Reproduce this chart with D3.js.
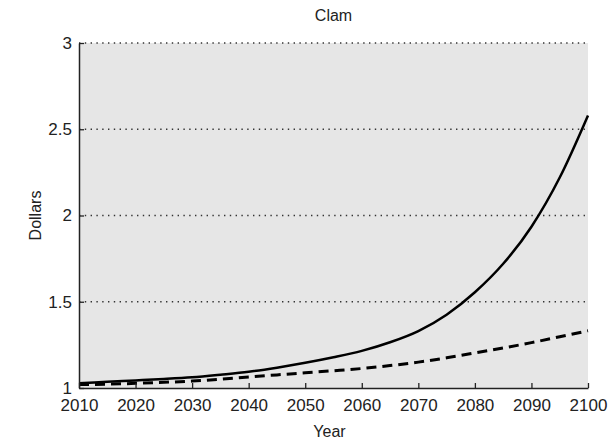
<!DOCTYPE html>
<html lang="en">
<head>
    <meta charset="UTF-8">
    <title>Clam</title>
    <style>
        body {
            margin: 0;
            padding: 0;
            background-color: #ffffff;
        }
        svg text {
            font-family: "Liberation Sans", Arial, sans-serif;
            fill: #222;
        }
        .tick text {
            font-size: 17px;
        }
        .chart-title, .axis-label {
            font-size: 16px;
            text-anchor: middle;
        }
    </style>
</head>
<body>
    <svg width="610" height="445"></svg>

    <script src="https://d3js.org/d3.v7.min.js"></script>
    <script>
        // values, every 5 years
        const years = [2010, 2015, 2020, 2025, 2030, 2035, 2040, 2045, 2050, 2055,
                       2060, 2065, 2070, 2075, 2080, 2085, 2090, 2095, 2100];
        const solidSeries = [1.028, 1.036, 1.044, 1.052, 1.062, 1.077, 1.094, 1.118, 1.146, 1.178,
                             1.215, 1.265, 1.33, 1.425, 1.555, 1.72, 1.935, 2.22, 2.58];
        const dashedSeries = [1.02, 1.022, 1.027, 1.033, 1.04, 1.051, 1.064, 1.076, 1.088, 1.10,
                              1.113, 1.13, 1.15, 1.175, 1.203, 1.232, 1.263, 1.297, 1.332];
        const xTicks = [2010, 2020, 2030, 2040, 2050, 2060, 2070, 2080, 2090, 2100];
        const yTicks = [1, 1.5, 2, 2.5, 3];
        const gridValues = [1.5, 2, 2.5, 3];

        const svg = d3.select("svg");
        const margin = {top: 43, right: 22, bottom: 57, left: 79};
        const width = +svg.attr("width");
        const height = +svg.attr("height");

        const x = d3.scaleLinear()
            .domain([2010, 2100])
            .range([margin.left, width - margin.right]);

        const y = d3.scaleLinear()
            .domain([1, 3])
            .range([height - margin.bottom, margin.top]);

        // grey plot background
        svg.append("rect")
            .attr("x", x(2010))
            .attr("y", y(3))
            .attr("width", x(2100) - x(2010))
            .attr("height", y(1) - y(3))
            .attr("fill", "#e6e6e6");

        // dotted grid lines
        svg.append("g")
            .selectAll("line")
            .data(gridValues)
            .join("line")
            .attr("x1", x(2010))
            .attr("x2", x(2100))
            .attr("y1", d => y(d))
            .attr("y2", d => y(d))
            .attr("stroke", "#333")
            .attr("stroke-width", 1.3)
            .attr("stroke-dasharray", "1.4,4.4");

        const line = d3.line()
            .x((d, i) => x(years[i]))
            .y(d => y(d))
            .curve(d3.curveMonotoneX);

        svg.append("path")
            .datum(dashedSeries)
            .attr("d", line)
            .attr("fill", "none")
            .attr("stroke", "#000")
            .attr("stroke-width", 3)
            .attr("stroke-dasharray", "10,6");

        svg.append("path")
            .datum(solidSeries)
            .attr("d", line)
            .attr("fill", "none")
            .attr("stroke", "#000")
            .attr("stroke-width", 2.5);

        const xAxis = g => g
            .attr("transform", `translate(0,${y(1)})`)
            .call(d3.axisBottom(x)
                .tickValues(xTicks)
                .tickFormat(d3.format("d"))
                .tickSizeInner(-5)
                .tickSizeOuter(0)
                .tickPadding(11))
            .call(g => g.select(".domain").attr("stroke", "#222").attr("stroke-width", 1.5))
            .call(g => g.selectAll(".tick line").attr("stroke", "#222").attr("stroke-width", 1.3));

        const yAxis = g => g
            .attr("transform", `translate(${x(2010)},0)`)
            .call(d3.axisLeft(y)
                .tickValues(yTicks)
                .tickFormat(d3.format("~g"))
                .tickSizeInner(-5)
                .tickSizeOuter(0)
                .tickPadding(7))
            .call(g => g.select(".domain").attr("stroke", "#222").attr("stroke-width", 1.5))
            .call(g => g.selectAll(".tick line").attr("stroke", "#222").attr("stroke-width", 1.3));

        svg.append("g").call(xAxis);
        svg.append("g").call(yAxis);

        svg.selectAll(".tick text")
            .attr("font-family", null)
            .attr("font-size", null);

        svg.append("text")
            .attr("class", "chart-title")
            .attr("x", (x(2010) + x(2100)) / 2)
            .attr("y", 21)
            .text("Clam");

        svg.append("text")
            .attr("class", "axis-label")
            .attr("x", (x(2010) + x(2100)) / 2 - 4)
            .attr("y", 437)
            .text("Year");

        svg.append("text")
            .attr("class", "axis-label")
            .attr("transform", `translate(41,${(y(1) + y(3)) / 2}) rotate(-90)`)
            .text("Dollars");
    </script>
</body>
</html>
